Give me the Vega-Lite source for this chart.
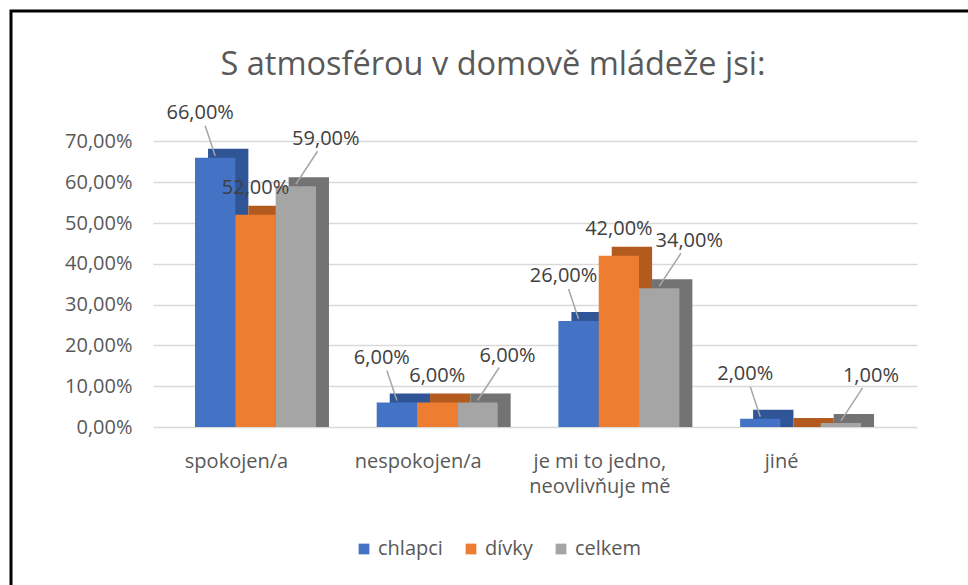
{
  "$schema": "https://vega.github.io/schema/vega-lite/v6.json",
  "width": 964,
  "height": 600,
  "padding": {"left": 11, "top": 11, "right": 0, "bottom": 0},
  "background": "white",
  "config": {
    "locale": {"number": {"decimal": ",", "thousands": " ", "grouping": [3], "currency": ["", " Kč"]}},
    "view": {"stroke": "#000000", "strokeWidth": 3},
    "font": "Open Sans"
  },
  "title": {
    "text": "S atmosférou v domově mládeže jsi:",
    "fontSize": 32.5,
    "fontWeight": "normal",
    "color": "#595959",
    "font": "Open Sans",
    "anchor": "middle",
    "offset": -70
  },
  "data": {
    "values": [
      {"kategorie": "spokojen/a", "skupina": "chlapci", "hodnota": 0.66},
      {"kategorie": "spokojen/a", "skupina": "dívky", "hodnota": 0.52},
      {"kategorie": "spokojen/a", "skupina": "celkem", "hodnota": 0.59},
      {"kategorie": "nespokojen/a", "skupina": "chlapci", "hodnota": 0.06},
      {"kategorie": "nespokojen/a", "skupina": "dívky", "hodnota": 0.06},
      {"kategorie": "nespokojen/a", "skupina": "celkem", "hodnota": 0.06},
      {"kategorie": "je mi to jedno, neovlivňuje mě", "skupina": "chlapci", "hodnota": 0.26},
      {"kategorie": "je mi to jedno, neovlivňuje mě", "skupina": "dívky", "hodnota": 0.42},
      {"kategorie": "je mi to jedno, neovlivňuje mě", "skupina": "celkem", "hodnota": 0.34},
      {"kategorie": "jiné", "skupina": "chlapci", "hodnota": 0.02},
      {"kategorie": "jiné", "skupina": "dívky", "hodnota": 0.0},
      {"kategorie": "jiné", "skupina": "celkem", "hodnota": 0.01}
    ]
  },
  "encoding": {
    "x": {
      "field": "kategorie",
      "type": "nominal",
      "sort": ["spokojen/a", "nespokojen/a", "je mi to jedno, neovlivňuje mě", "jiné"],
      "scale": {"range": [142, 906], "paddingInner": 0.334, "paddingOuter": 0.2694, "align": 0.429},
      "axis": {
        "title": null,
        "orient": "bottom",
        "offset": -184,
        "domain": false,
        "ticks": false,
        "tickSize": 0,
        "grid": false,
        "labelPadding": 24,
        "labelOffset": -19,
        "labelAngle": 0,
        "labelFontSize": 20,
        "labelFont": "Open Sans",
        "labelColor": "#595959",
        "labelLineHeight": 25,
        "labelOverlap": false,
        "labelLimit": 0,
        "labelExpr": "datum.value == 'je mi to jedno, neovlivňuje mě' ? ['je mi to jedno,', 'neovlivňuje mě'] : datum.label"
      }
    },
    "y": {
      "field": "hodnota",
      "type": "quantitative",
      "scale": {"domain": [0, 0.7], "range": [416, 130.4], "nice": false, "zero": true},
      "axis": {
        "title": null,
        "orient": "left",
        "offset": -121,
        "domain": false,
        "ticks": false,
        "tickSize": 0,
        "labelPadding": 0,
        "values": [0, 0.1, 0.2, 0.3, 0.4, 0.5, 0.6, 0.7],
        "format": ".2%",
        "labelFontSize": 20,
        "labelFont": "Open Sans",
        "labelColor": "#595959",
        "gridColor": "#d9d9d9",
        "gridWidth": 1.3
      }
    }
  },
  "layer": [
    {
      "transform": [{"filter": "datum.skupina == 'chlapci'"}],
      "mark": {"type": "bar", "width": 40.33, "xOffset": -27.3, "yOffset": -9, "y2Offset": 0.01, "color": "#2F5597"},
      "encoding": {"y2": {"datum": 0}}
    },
    {
      "transform": [{"filter": "datum.skupina == 'dívky'"}],
      "mark": {"type": "bar", "width": 40.33, "xOffset": 13, "yOffset": -9, "y2Offset": 0.01, "color": "#B35A1F"},
      "encoding": {"y2": {"datum": 0}}
    },
    {
      "transform": [{"filter": "datum.skupina == 'celkem'"}],
      "mark": {"type": "bar", "width": 40.33, "xOffset": 53.3, "yOffset": -9, "y2Offset": 0.01, "color": "#737373"},
      "encoding": {"y2": {"datum": 0}}
    },
    {
      "mark": {"type": "bar"},
      "encoding": {
        "xOffset": {"field": "skupina", "type": "nominal", "sort": ["chlapci", "dívky", "celkem"]},
        "color": {
          "field": "skupina",
          "type": "nominal",
          "sort": ["chlapci", "dívky", "celkem"],
          "scale": {"domain": ["chlapci", "dívky", "celkem"], "range": ["#4472C4", "#ED7D31", "#A5A5A5"]},
          "legend": {
            "title": null,
            "orient": "none",
            "legendX": 343,
            "legendY": 528,
            "direction": "horizontal",
            "symbolType": "square",
            "symbolSize": 115,
            "symbolStrokeWidth": 0,
            "labelFontSize": 20,
            "labelFont": "Open Sans",
            "labelColor": "#595959",
            "columnPadding": 18,
            "labelOffset": 4
          }
        }
      }
    },
    {
      "transform": [{"filter": "datum.skupina == 'chlapci'"}],
      "mark": {"type": "rule", "color": "#A6A6A6", "strokeWidth": 1.5, "x2Offset": -50.3, "yOffset": -2, "y2Offset": -32},
      "encoding": {
        "xOffset": {"field": "skupina", "type": "nominal", "sort": ["chlapci", "dívky", "celkem"]},
        "x2": {"field": "kategorie"},
        "y2": {"field": "hodnota"}
      }
    },
    {
      "transform": [{"filter": "datum.skupina == 'celkem'"}],
      "mark": {"type": "rule", "color": "#A6A6A6", "strokeWidth": 1.5, "x2Offset": 62, "yOffset": -2, "y2Offset": -35},
      "encoding": {
        "xOffset": {"field": "skupina", "type": "nominal", "sort": ["chlapci", "dívky", "celkem"]},
        "x2": {"field": "kategorie"},
        "y2": {"field": "hodnota"}
      }
    },
    {
      "transform": [{"filter": "datum.skupina == 'chlapci'"}],
      "mark": {"type": "text", "dx": -15, "dy": -45, "fontSize": 20, "font": "Open Sans", "color": "#404040"},
      "encoding": {
        "xOffset": {"field": "skupina", "type": "nominal", "sort": ["chlapci", "dívky", "celkem"]},
        "text": {"field": "hodnota", "type": "quantitative", "format": ".2%"}
      }
    },
    {
      "transform": [{"filter": "datum.skupina == 'dívky' && datum.hodnota > 0"}],
      "mark": {"type": "text", "dx": 0, "dy": -27, "fontSize": 20, "font": "Open Sans", "color": "#404040"},
      "encoding": {
        "xOffset": {"field": "skupina", "type": "nominal", "sort": ["chlapci", "dívky", "celkem"]},
        "text": {"field": "hodnota", "type": "quantitative", "format": ".2%"}
      }
    },
    {
      "transform": [{"filter": "datum.skupina == 'celkem'"}],
      "mark": {"type": "text", "dx": 30, "dy": -47, "fontSize": 20, "font": "Open Sans", "color": "#404040"},
      "encoding": {
        "xOffset": {"field": "skupina", "type": "nominal", "sort": ["chlapci", "dívky", "celkem"]},
        "text": {"field": "hodnota", "type": "quantitative", "format": ".2%"}
      }
    }
  ]
}
